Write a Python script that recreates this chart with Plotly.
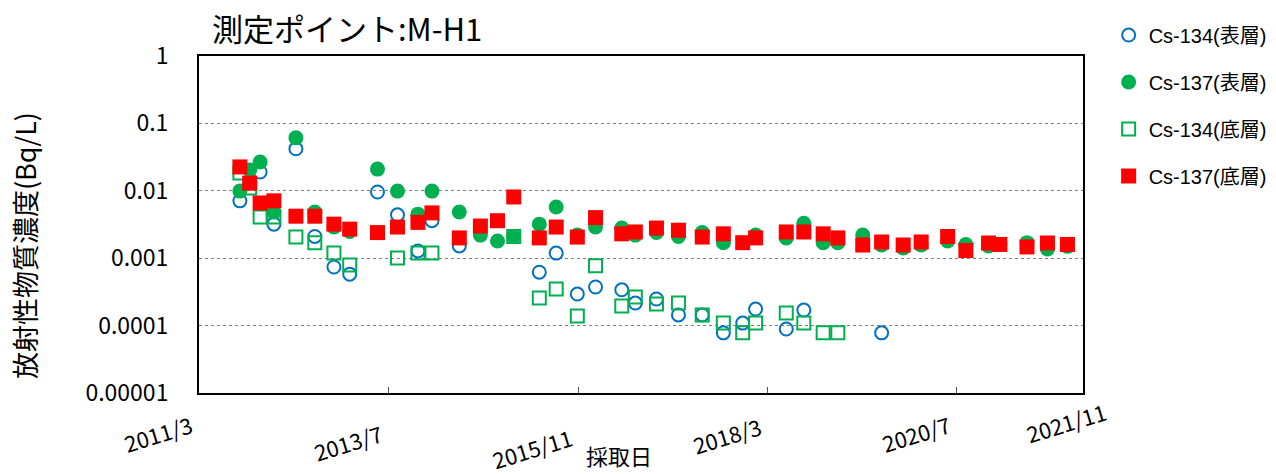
import plotly.graph_objects as go

# ---------------- data ----------------
cs134_surf_dates = ["2011-09-01", "2011-12-01", "2012-02-01", "2012-05-10", "2012-08-03",
                    "2012-10-28", "2013-01-07", "2013-05-12", "2013-08-10", "2013-11-10",
                    "2014-01-12", "2014-05-15", "2015-05-10", "2015-07-25", "2015-10-28",
                    "2016-01-18", "2016-05-15", "2016-07-15", "2016-10-18", "2017-01-25",
                    "2017-05-12", "2017-08-15", "2017-11-10", "2018-01-07", "2018-05-25",
                    "2018-08-12", "2019-07-28"]
cs134_surf_vals = [0.0071, 0.019, 0.0032, 0.042, 0.0021,
                   0.00074, 0.00058, 0.0096, 0.0044, 0.00128,
                   0.0036, 0.00152, 0.00062, 0.00119, 0.000294,
                   0.000374, 0.00034, 0.000216, 0.000248, 0.000144,
                   0.000144, 0.000078, 0.000109, 0.000176, 0.000089,
                   0.00017, 0.000078]

cs137_surf_dates = ["2011-09-01", "2011-10-15", "2011-12-01", "2012-02-01", "2012-05-10",
                    "2012-08-03", "2012-10-28", "2013-01-07", "2013-05-12", "2013-08-10",
                    "2013-11-10", "2014-01-12", "2014-05-15", "2014-08-18", "2014-11-03",
                    "2015-01-15", "2015-05-10", "2015-07-25", "2015-10-28", "2016-01-18",
                    "2016-05-15", "2016-07-15", "2016-10-18", "2017-01-25", "2017-05-12",
                    "2017-08-15", "2018-01-07", "2018-05-25", "2018-08-12", "2018-11-07",
                    "2019-01-12", "2019-05-04", "2019-07-28", "2019-11-02", "2020-01-22",
                    "2020-05-20", "2020-08-10", "2020-11-20", "2021-01-10", "2021-05-12",
                    "2021-08-12", "2021-11-10"]
cs137_surf_vals = [0.0099, 0.0204, 0.0267, 0.00485, 0.061,
                   0.00485, 0.0029, 0.0025, 0.021, 0.0099,
                   0.0045, 0.0099, 0.00485, 0.0022, 0.0018,
                   0.0021, 0.0032, 0.00575, 0.0022, 0.0029,
                   0.0028, 0.0022, 0.0024, 0.0021, 0.0024,
                   0.0017, 0.0022, 0.0020, 0.0033, 0.0017,
                   0.0017, 0.0022, 0.00157, 0.00142, 0.00157,
                   0.0018, 0.0016, 0.00152, 0.0016, 0.0017,
                   0.00137, 0.0015]

cs134_bot_dates = ["2011-09-01", "2011-10-15", "2011-12-01", "2012-02-01", "2012-05-10",
                   "2012-08-03", "2012-10-28", "2013-01-07", "2013-08-10", "2013-11-10",
                   "2014-01-12", "2015-01-15", "2015-05-10", "2015-07-25", "2015-10-28",
                   "2016-01-18", "2016-05-15", "2016-07-15", "2016-10-18", "2017-01-25",
                   "2017-05-12", "2017-08-15", "2017-11-10", "2018-01-07", "2018-05-25",
                   "2018-08-12", "2018-11-07", "2019-01-12"]
cs134_bot_vals = [0.0184, 0.011, 0.0041, 0.0041, 0.00206,
                  0.0017, 0.00119, 0.00079, 0.00101, 0.00119,
                  0.00119, 0.0021, 0.000257, 0.00035, 0.000139,
                  0.00077, 0.000195, 0.000266, 0.000209, 0.000216,
                  0.000144, 0.000109, 0.000078, 0.000109, 0.000154,
                  0.000109, 0.000078, 0.000078]

cs137_bot_dates = ["2011-09-01", "2011-10-15", "2011-12-01", "2012-02-01", "2012-05-10",
                   "2012-08-03", "2012-10-28", "2013-01-07", "2013-05-12", "2013-08-10",
                   "2013-11-10", "2014-01-12", "2014-05-15", "2014-08-18", "2014-11-03",
                   "2015-01-15", "2015-05-10", "2015-07-25", "2015-10-28", "2016-01-18",
                   "2016-05-15", "2016-07-15", "2016-10-18", "2017-01-25", "2017-05-12",
                   "2017-08-15", "2017-11-10", "2018-01-07", "2018-05-25", "2018-08-12",
                   "2018-11-07", "2019-01-12", "2019-05-04", "2019-07-28", "2019-11-02",
                   "2020-01-22", "2020-05-20", "2020-08-10", "2020-11-20", "2021-01-10",
                   "2021-05-12", "2021-08-12", "2021-11-10"]
cs137_bot_vals = [0.0226, 0.013, 0.0066, 0.0071, 0.0042,
                  0.0042, 0.0032, 0.0027, 0.0024, 0.0029,
                  0.0034, 0.0047, 0.0020, 0.0030, 0.0036,
                  0.0081, 0.0020, 0.0029, 0.00206, 0.0040,
                  0.0023, 0.00245, 0.0028, 0.0026, 0.00206,
                  0.0023, 0.0017, 0.0020, 0.00245, 0.00245,
                  0.0023, 0.0020, 0.00157, 0.00174, 0.00157,
                  0.00174, 0.0021, 0.0013, 0.00168, 0.0016,
                  0.00147, 0.00168, 0.0016]

series_names = ["Cs-134(表層)", "Cs-137(表層)", "Cs-134(底層)", "Cs-137(底層)"]

x_tick_dates = ["2013-07-01", "2015-11-01", "2018-03-01", "2020-07-01"]
x_label_dates = ["2011-03-01", "2013-07-01", "2015-11-01", "2018-03-01", "2020-07-01", "2021-11-01"]
x_label_text = ["2011/3", "2013/7", "2015/11", "2018/3", "2020/7", "2021/11"]

y_tick_vals = [1, 0.1, 0.01, 0.001, 0.0001, 0.00001]
y_tick_text = ["1", "0.1", "0.01", "0.001", "0.0001", "0.00001"]

title_text = "測定ポイント:M-H1"
y_title = "放射性物質濃度(Bq/L)"
x_title = "採取日"

# ---------------- styling ----------------
FONT = "Noto Sans CJK JP"
LFONT = "Liberation Sans, Noto Sans CJK JP"
BLUE = "#0070C0"
GREEN = "#00B050"
RED = "#FF0000"

fig = go.Figure()
fig.add_trace(go.Scatter(
    x=cs134_surf_dates, y=cs134_surf_vals, mode="markers", name=series_names[0],
    legendgroup="a",
    marker=dict(symbol="circle-open", size=13, color=BLUE, line=dict(width=2, color=BLUE))))
fig.add_trace(go.Scatter(
    x=cs137_surf_dates, y=cs137_surf_vals, mode="markers", name=series_names[1],
    legendgroup="b",
    marker=dict(symbol="circle", size=15, color=GREEN, line=dict(width=0))))
fig.add_trace(go.Scatter(
    x=cs134_bot_dates, y=cs134_bot_vals, mode="markers", name=series_names[2],
    legendgroup="c",
    marker=dict(symbol="square-open", size=13, color=GREEN, line=dict(width=2, color=GREEN))))
fig.add_trace(go.Scatter(
    x=cs137_bot_dates, y=cs137_bot_vals, mode="markers", name=series_names[3],
    legendgroup="d",
    marker=dict(symbol="square", size=15, color=RED, line=dict(width=0))))

# x tick labels as rotated annotations (as drawn in the original)
label_xshift = [0, 0, 0, 0, 0, 47]
label_top_px = [405, 414, 418, 407, 405, 392]
PLOT_BOTTOM = 393
annotations = []
for d, t, xs, tp in zip(x_label_dates, x_label_text, label_xshift, label_top_px):
    annotations.append(dict(
        x=d, xref="x", y=0, yref="paper", text=t, showarrow=False,
        xanchor="right", yanchor="top", textangle=-17,
        xshift=xs, yshift=-(tp - PLOT_BOTTOM),
        font=dict(family=FONT, size=22, color="black")))

annotations.append(dict(
    x=-0.198, xref="paper", y=0.439, yref="paper", text=y_title, showarrow=False,
    textangle=-90, xanchor="center", yanchor="middle",
    font=dict(family=FONT, size=27, color="black")))
annotations.append(dict(
    x=0.475, xref="paper", y=-0.13, yref="paper", text=x_title, showarrow=False,
    xanchor="center", yanchor="top",
    font=dict(family=FONT, size=22, color="black")))
annotations.append(dict(
    x=0.0124, xref="paper", y=1.013, yref="paper", text=title_text, showarrow=False,
    xanchor="left", yanchor="bottom",
    font=dict(family=FONT, size=31, color="black")))

fig.update_layout(
    width=1276, height=474,
    margin=dict(l=199, r=193, t=56, b=81, autoexpand=False),
    paper_bgcolor="white", plot_bgcolor="white",
    showlegend=True,
    legend=dict(x=1.029, y=1.12, xanchor="left", yanchor="top",
                font=dict(family=LFONT, size=20, color="black"),
                traceorder="grouped", tracegroupgap=18,
                bgcolor="rgba(0,0,0,0)"),
    annotations=annotations,
    font=dict(family=FONT, color="black"),
)

fig.update_xaxes(
    type="date", range=["2011-03-01", "2022-01-19"],
    tickvals=x_tick_dates, showticklabels=False,
    ticks="inside", ticklen=6, tickcolor="#555", tickwidth=1,
    showgrid=False, zeroline=False,
    showline=True, linecolor="black", linewidth=2, mirror=True,
)
fig.update_yaxes(
    type="log", range=[-5, 0],
    tickvals=y_tick_vals, ticktext=y_tick_text,
    tickfont=dict(family=FONT, size=23, color="black"),
    ticks="", ticklabelstandoff=24,
    showgrid=True, gridcolor="#808080", griddash="dot", gridwidth=1,
    zeroline=False,
    showline=True, linecolor="black", linewidth=2, mirror=True,
)

fig.write_html("out.html", config={"displayModeBar": False},
               post_script="document.body.style.margin='0';document.body.style.overflow='hidden';")
